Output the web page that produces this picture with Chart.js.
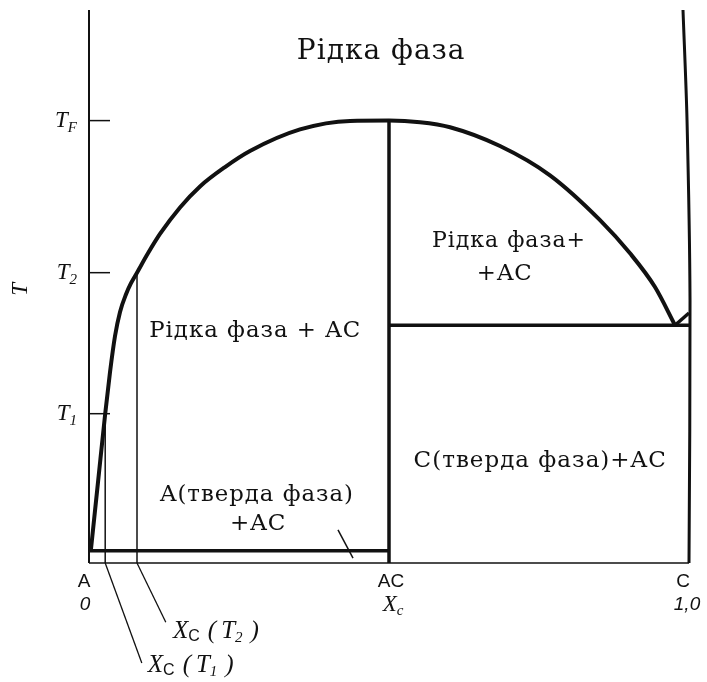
<!DOCTYPE html>
<html lang="uk">
<head>
<meta charset="utf-8">
<title>Діаграма стану A–C з конгруентною сполукою AC</title>
<script src="https://cdn.jsdelivr.net/npm/chart.js@4.4.1/dist/chart.umd.min.js"></script>
<style>
  html, body { margin: 0; padding: 0; background: #fff; }
  #wrap { position: relative; width: 707px; height: 682px; }
</style>
</head>
<body>
<div id="wrap"><canvas id="phase"></canvas></div>
<script>
// Composition axis (mole fraction of C) and its named points
const compositionLabels = ['A', 'AC', 'C'];
const compositionValues = [0, 0.5, 1];
const compositionNumbers = ['0', 'X_c', '1,0'];

// Temperature axis marks
const temperatureLabels = ['F', '2', '1'];      // subscripts of T
const temperatureValues = [80, 52.5, 27];       // T_F, T_2, T_1

// Liquidus curve: A-rich branch up to the melting point of AC, then C-rich branch
const liquidusX = [0.003, 0.015, 0.027, 0.035, 0.0433, 0.0517, 0.0617, 0.07, 0.080, 0.0983, 0.1183, 0.1517, 0.185,
                   0.2267, 0.2683, 0.3517, 0.435, 0.5,
                   0.5517, 0.6017, 0.685, 0.7683, 0.8517, 0.9017, 0.9433, 0.9767];
const liquidusT = [2.2, 14.6, 27, 34.5, 41.0, 45.4, 48.6, 50.6, 52.5, 56.0, 59.5, 64.3, 68.1,
                   71.6, 74.5, 78.4, 79.95, 80,
                   79.7, 78.8, 75.4, 70.1, 62.0, 56.0, 49.9, 43];

// Eutectic temperatures on both sides of AC
const eutecticLeftT = 2.2;
const eutecticRightT = 43;

// Short C-side liquidus segment above the right eutectic
const cLiquidusX = [0.9767, 1.0];
const cLiquidusT = [43, 45.2];

// Right (C) boundary line
const cBoundaryX = [0.99, 0.9967, 1.0017, 1.0];
const cBoundaryT = [100, 80.1, 47.5, 0];

// Compositions of the liquid at T1 and T2
const xcT1 = 0.027;
const xcT2 = 0.08;

const pts = (xs, ys) => xs.map((x, i) => ({ x, y: ys[i] }));
const seg = (x1, y1, x2, y2) => [{ x: x1, y: y1 }, { x: x2, y: y2 }];

const INK = '#111';
const line = (data, width, extra) => Object.assign({
  data, showLine: true, borderColor: INK, borderWidth: width, pointRadius: 0,
  fill: false, tension: 0, clip: false, borderCapStyle: 'butt', borderJoinStyle: 'round'
}, extra || {});

const datasets = [
  line(pts(liquidusX, liquidusT), 4, { cubicInterpolationMode: 'monotone' }),
  line(pts(cLiquidusX, cLiquidusT), 3.5),
  line(seg(0.5, 0, 0.5, temperatureValues[0]), 3.5),
  line(seg(0, eutecticLeftT, 0.5, eutecticLeftT), 3.5),
  line(seg(0.5, eutecticRightT, 1, eutecticRightT), 3.5),
  line(seg(0, 0, 0, 100), 2),
  line(seg(0, 0, 1, 0), 1.5),
  line(pts(cBoundaryX, cBoundaryT), 3, { tension: 0.3 }),
  line(seg(xcT1, 0, xcT1, temperatureValues[2]), 1.5),
  line(seg(xcT2, 0, xcT2, temperatureValues[1]), 1.5),
  line(seg(xcT1, 0, 0.088, -18.1), 1.3),
  line(seg(xcT2, 0, 0.128, -10.7), 1.3),
  line(seg(0.415, 6, 0.44, 0.9), 1.5)
].concat(temperatureValues.map(t => line(seg(0, t, 0.035, t), 1.5)));

// Region captions: [text, x, T, font, maxWidth]
const SERIF = '"DejaVu Serif", "Liberation Serif", serif';
const captions = [
  ['Рідка фаза', 0.487, 91.1, '28px ' + SERIF, 170],
  ['Рідка фаза+', 0.70, 57.1, '23px ' + SERIF, 154],
  ['+AC', 0.693, 51.2, '23px ' + SERIF, 56],
  ['Рідка фаза + AC', 0.277, 40.9, '23px ' + SERIF, 212],
  ['A(тверда фаза)', 0.28, 11.2, '23px ' + SERIF, 194],
  ['+AC', 0.282, 6.0, '23px ' + SERIF, 57],
  ['C(тверда фаза)+AC', 0.752, 17.4, '23px ' + SERIF, 256]
];

const ITSERIF = 'italic 23px "Liberation Serif", serif';
const ITBIG = 'italic 25px "Liberation Serif", serif';
const ITSUB = 'italic 15px "Liberation Serif", serif';
const SANS = '19px "Liberation Sans", sans-serif';
const ITSANS = 'italic 19px "Liberation Sans", sans-serif';
const SUBSANS = '16px "Liberation Sans", sans-serif';

// Draws a run of differently styled pieces starting at (x, y)
function drawRun(ctx, parts, x, y, align) {
  let total = 0;
  parts.forEach(p => { ctx.font = p.f; total += ctx.measureText(p.t).width + (p.gap || 0); });
  let cx = align === 'center' ? x - total / 2 : (align === 'right' ? x - total : x);
  ctx.textAlign = 'left';
  parts.forEach(p => {
    ctx.font = p.f;
    ctx.fillText(p.t, cx, y + (p.dy || 0));
    cx += ctx.measureText(p.t).width + (p.gap || 0);
  });
}

const xcRun = (sub) => [
  { t: 'X', f: ITBIG, gap: 0 },
  { t: 'C', f: SUBSANS, dy: 3, gap: 8 },
  { t: '(', f: ITBIG, gap: 5 },
  { t: 'T', f: ITBIG },
  { t: sub, f: ITSUB, dy: 4, gap: 8 },
  { t: ')', f: ITBIG }
];

const annotate = {
  id: 'phaseText',
  afterDatasetsDraw(chart) {
    const { ctx, scales: { x, y } } = chart;
    ctx.save();
    ctx.fillStyle = INK;
    ctx.textBaseline = 'alphabetic';

    ctx.letterSpacing = '1px';
    captions.forEach(([t, cx, cy, f, mw]) => {
      ctx.font = f;
      ctx.textAlign = 'center';
      ctx.fillText(t, x.getPixelForValue(cx), y.getPixelForValue(cy), mw);
    });
    ctx.letterSpacing = '0px';

    // temperature marks on the left axis
    temperatureValues.forEach((t, i) => {
      const py = y.getPixelForValue(t);
      drawRun(ctx, [
        { t: 'T', f: ITSERIF },
        { t: temperatureLabels[i], f: ITSUB, dy: 5 }
      ], x.getPixelForValue(0) - 12, py + 6, 'right');
    });

    // axis title
    ctx.save();
    ctx.translate(20, y.getPixelForValue(49.5));
    ctx.rotate(-Math.PI / 2);
    ctx.font = ITSERIF;
    ctx.textAlign = 'center';
    ctx.fillText('T', 0, 7);
    ctx.restore();

    // composition marks under the axis
    const base = y.getPixelForValue(0);
    compositionValues.forEach((v, i) => {
      const px = x.getPixelForValue(v);
      const shift = i === 0 ? -5 : (i === 2 ? -6 : 2);
      ctx.font = SANS;
      ctx.textAlign = 'center';
      ctx.fillText(compositionLabels[i], px + shift, base + 24);
      const num = compositionNumbers[i];
      if (num === 'X_c') {
        drawRun(ctx, [
          { t: 'X', f: ITSERIF },
          { t: 'c', f: ITSUB, dy: 4 }
        ], px + 4, base + 48, 'center');
      } else {
        ctx.font = ITSANS;
        ctx.textAlign = 'center';
        ctx.fillText(num, px + (i === 0 ? -4 : -2), base + 47);
      }
    });

    // compositions of the liquid at T2 and T1
    drawRun(ctx, xcRun('2'), x.getPixelForValue(0.14), y.getPixelForValue(-13.5), 'left');
    drawRun(ctx, xcRun('1'), x.getPixelForValue(0.098), y.getPixelForValue(-19.8), 'left');

    ctx.restore();
  }
};

new Chart(document.getElementById('phase'), {
  type: 'scatter',
  data: { datasets },
  options: {
    responsive: true,
    maintainAspectRatio: false,
    animation: false,
    events: [],
    layout: { padding: { left: 89, right: 18, top: 10, bottom: 8.4 } },
    plugins: { legend: { display: false }, tooltip: { enabled: false } },
    scales: {
      x: { type: 'linear', min: 0, max: 1, display: false },
      y: { type: 'linear', min: -20, max: 100, display: false }
    }
  },
  plugins: [annotate]
});
</script>
</body>
</html>
